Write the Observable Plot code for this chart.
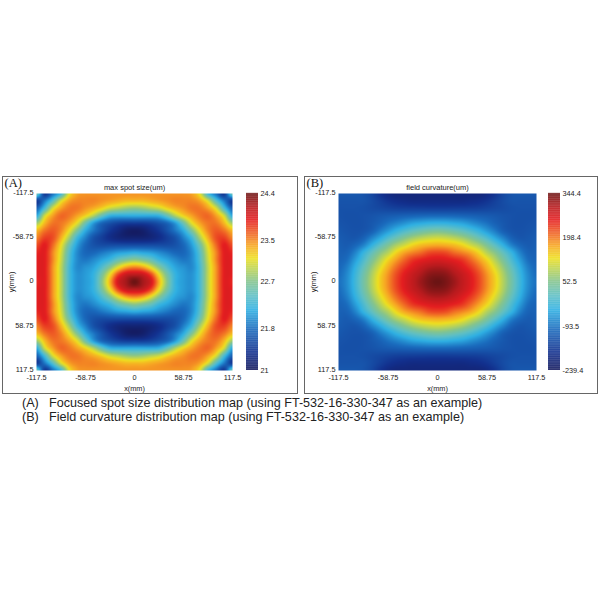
<!DOCTYPE html>
<html>
<head>
<meta charset="utf-8">
<script src="https://cdn.jsdelivr.net/npm/d3@7"></script>
<script src="https://cdn.jsdelivr.net/npm/@observablehq/plot@0.6"></script>
<style>
html,body{margin:0;padding:0;background:#fff;width:600px;height:600px;overflow:hidden;position:relative}
.frame{position:absolute;box-sizing:border-box;border:1px solid #666}
.abs{position:absolute}
.abs svg{display:block;background:transparent;overflow:visible}
.cap{position:absolute;font:12.6px "Liberation Sans",Arial,sans-serif;color:#222;white-space:nowrap}
</style>
</head>
<body>
<div id="root"></div>
<script>
// top-left quadrant, rows from y=-117.5 to 0, columns from x=-117.5 to 0
const spotQuadrant = [
 [22.6,21.4,21.8,22.25,23.1,23.4,23.45,23.45,23.45,23.45,23.45,23.45,23.45],
 [21.4,21.85,22.4,23.05,23.4,23.5,23.5,23.5,23.45,23.4,23.35,23.3,23.3],
 [21.7,22.3,23.05,23.4,23.55,23.55,23.45,23.35,23.2,23.0,22.9,22.8,22.75],
 [22.1,23.0,23.4,23.6,23.55,23.4,23.2,22.9,22.5,22.2,22.15,22.15,22.15],
 [22.8,23.3,23.55,23.55,23.4,23.1,22.55,22.05,21.75,21.6,21.5,21.45,21.45],
 [23.3,23.55,23.65,23.5,23.15,22.65,22.15,21.85,21.6,21.4,21.25,21.1,21.05],
 [23.5,23.75,23.7,23.35,22.85,22.25,21.9,21.6,21.45,21.3,21.2,21.15,21.15],
 [23.7,23.9,23.6,23.15,22.55,22.05,21.75,21.6,21.55,21.55,21.55,21.55,21.55],
 [23.85,23.9,23.5,23.05,22.4,21.95,21.75,21.75,21.85,21.95,22.05,22.1,22.15],
 [23.9,23.9,23.5,23.0,22.35,21.95,21.85,21.95,22.1,22.25,22.5,22.65,22.75],
 [23.9,23.9,23.45,22.95,22.3,21.95,22.0,22.1,22.35,22.7,23.1,23.4,23.5],
 [23.9,23.9,23.45,22.95,22.3,22.0,22.05,22.2,22.6,23.15,23.75,24.05,24.1],
 [23.85,23.9,23.45,22.95,22.3,22.0,22.05,22.2,22.7,23.35,24.0,24.2,24.4]
];
const curvatureQuadrant = [
 [-130,-130,-130,-135,-150,-175,-195,-205,-205,-205,-205,-205,-205],
 [-135,-135,-135,-135,-145,-160,-175,-185,-190,-195,-195,-195,-195],
 [-138,-138,-138,-140,-145,-150,-155,-160,-162,-163,-164,-165,-165],
 [-138,-140,-140,-138,-135,-130,-126,-122,-118,-115,-112,-110,-110],
 [-135,-138,-140,-138,-130,-118,-100,-85,-70,-55,-47,-40,-38],
 [-130,-135,-138,-135,-122,-93,-65,-37,-14,5,19,30,35],
 [-125,-130,-132,-118,-85,-50,-12,19,48,72,89,100,105],
 [-120,-125,-112,-85,-40,3,43,80,107,136,154,163,167],
 [-118,-115,-84,-35,8,52,88,135,170,190,205,225,230],
 [-115,-103,-60,-12,38,86,135,175,210,240,255,265,270],
 [-110,-88,-40,10,63,115,163,205,240,265,285,300,305],
 [-105,-78,-29,25,80,135,181,225,260,285,305,325,330],
 [-100,-75,-25,30,85,140,185,230,265,290,315,335,344.4]
];
const gridMax = 117.5;
const axisTicks = [-117.5,-58.75,0,58.75,117.5];
const spotTicks = [21,21.8,22.7,23.5,24.4];
const curvatureTicks = [-239.4,-93.5,52.5,198.4,344.4];
const colorStops = [0,0.1,0.23,0.34,0.42,0.5,0.58,0.63,0.7,0.78,0.85,0.92,1];
const colorValues = ["#141a5e","#12308e","#1a6bbd","#2fb0e3","#5fbfc4","#85c48d","#c4d64c","#eedf1f","#f7a823","#ee5a24","#e41d20","#b81b1e","#6b1414"];
const captions = [
 ["(A)","Focused spot size distribution map (using FT-532-16-330-347 as an example)"],
 ["(B)","Field curvature distribution map (using FT-532-16-330-347 as an example)"]
];

const font = '"Liberation Sans",Arial,sans-serif';
const ink = "#222";
const root = document.getElementById("root");

function mirrored(q){
  const n = q.length - 1, pts = [];
  for (let r = -n; r <= n; r++) for (let c = -n; c <= n; c++) {
    pts.push({x: c / n * gridMax, y: r / n * gridMax, v: q[n - Math.abs(r)][n - Math.abs(c)]});
  }
  return pts;
}
// smooth resampling of the regular grid inside Plot.raster
function smoothGrid(index, w, h, X, Y, V){
  const n = Math.round(Math.sqrt(index.length));
  const G = (r,c) => V[index[Math.max(0,Math.min(n-1,r))*n + Math.max(0,Math.min(n-1,c))]];
  const x0 = d3.min(index,i=>X[i]), x1 = d3.max(index,i=>X[i]);
  const y0 = d3.min(index,i=>Y[i]), y1 = d3.max(index,i=>Y[i]);
  const cr = (a,b,c,d,t) => b + 0.5*t*(c-a + t*(2*a-5*b+4*c-d + t*(3*(b-c)+d-a)));
  const out = new Float64Array(w*h);
  for (let j=0;j<h;j++) for (let i=0;i<w;i++) {
    const u = (i+0.5-x0)/(x1-x0)*(n-1), v = (j+0.5-y0)/(y1-y0)*(n-1);
    const c = Math.max(0,Math.min(n-2,Math.floor(u))), r = Math.max(0,Math.min(n-2,Math.floor(v)));
    const tx = Math.max(0,Math.min(1,u-c)), ty = Math.max(0,Math.min(1,v-r));
    const row = k => cr(G(k,c-1),G(k,c),G(k,c+1),G(k,c+2),tx);
    out[j*w+i] = cr(row(r-1),row(r),row(r+1),row(r+2),ty);
  }
  return out;
}
function colorScale(lo, hi){
  return {type:"linear", domain: colorStops.map(t => lo + (hi - lo) * t), range: colorValues, clamp:true};
}
function frame(left, top, w, h){
  const d = document.createElement("div");
  d.className = "frame";
  d.style.cssText = `left:${left}px;top:${top}px;width:${w}px;height:${h}px`;
  root.appendChild(d);
}
function place(node, left, top){
  const d = document.createElement("div");
  d.className = "abs";
  d.style.cssText = `left:${left}px;top:${top}px`;
  d.appendChild(node);
  root.appendChild(d);
}
function panel(o){
  frame(o.left, 176, o.w, 218);
  const lo = o.ticks[0], hi = o.ticks[o.ticks.length - 1];
  place(Plot.plot({
    width:o.w, height:218, marginLeft:o.ml, marginRight:o.mr, marginTop:17, marginBottom:24,
    style:{background:"transparent", fontFamily:font, fontSize:"7.3px", color:ink, overflow:"visible"},
    x:{domain:[-gridMax,gridMax]},
    y:{domain:[gridMax,-gridMax]},
    color:colorScale(lo,hi),
    marks:[
      Plot.raster(mirrored(o.data), {x:"x", y:"y", fill:"v", interpolate:smoothGrid, pixelSize:1}),
      Plot.axisX({ticks:axisTicks, tickFormat:String, tickSize:0, tickPadding:4, label:"x(mm)", labelAnchor:"center", labelArrow:"none", labelOffset:20}),
      Plot.axisY({ticks:axisTicks, tickFormat:String, tickSize:0, tickPadding:3, dy:-1, label:"y(mm)", labelAnchor:"center", labelArrow:"none", labelOffset:28}),
      Plot.text([o.title], {frameAnchor:"top", dy:-9, text:d=>d, fontSize:7.5, fill:ink}),
      Plot.text([o.tag], {frameAnchor:"top-left", dx:-o.ml+2, dy:-15.5, text:d=>d, fontSize:12.5, fontFamily:'"Liberation Serif",serif', fill:"#111"})
    ]
  }), o.left, 176);
  const levels = d3.range(0,256).map(i => lo + (hi - lo) * i / 256);
  const step = (hi - lo) / 256;
  place(Plot.plot({
    width:46, height:187, marginLeft:0, marginRight:34, marginTop:5, marginBottom:5,
    style:{background:"transparent", fontFamily:font, fontSize:"7.3px", color:ink},
    x:{domain:[0,1], axis:null},
    y:{domain:[lo,hi], range:[182,5]},
    color:colorScale(lo,hi),
    marks:[
      Plot.rect(levels, {x1:0, x2:1, y1:d=>d, y2:d=>d+step*1.2, fill:d=>d}),
      Plot.axisY({anchor:"right", ticks:o.ticks, tickFormat:String, tickSize:0, tickPadding:2, label:null})
    ]
  }), o.barLeft, 188);
}
panel({left:2, w:296, ml:34, mr:66, barLeft:246, data:spotQuadrant, ticks:spotTicks, title:"max spot size(um)", tag:"(A)"});
panel({left:304, w:294, ml:34, mr:62, barLeft:548, data:curvatureQuadrant, ticks:curvatureTicks, title:"field curvature(um)", tag:"(B)"});
captions.forEach((c,i) => {
  [[22,c[0]],[49,c[1]]].forEach(([x,t]) => {
    const d = document.createElement("div");
    d.className = "cap";
    d.style.cssText = `left:${x}px;top:${396 + i*14.3}px`;
    d.textContent = t;
    root.appendChild(d);
  });
});
</script>
</body>
</html>
